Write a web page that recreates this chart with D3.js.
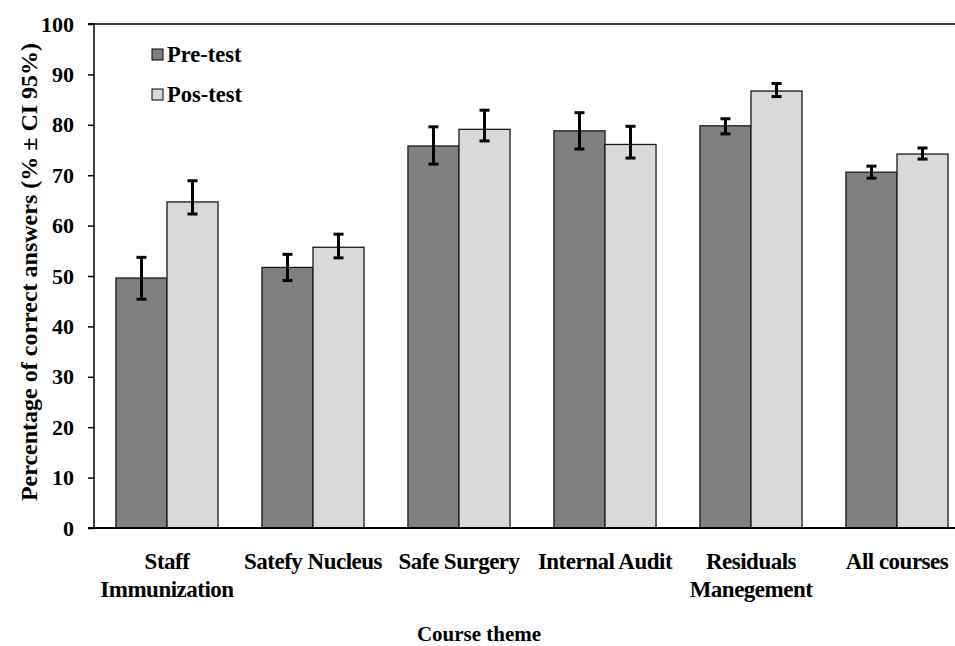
<!DOCTYPE html>
<html>
<head>
<meta charset="utf-8">
<script src="https://cdn.jsdelivr.net/npm/d3@7"></script>
<style>
  body { margin: 0; background: #fff; }
  svg { display: block; font-family: "Liberation Serif", "Times New Roman", serif; font-weight: bold; }
</style>
</head>
<body>
<svg id="drawing_region"></svg>
<script>
// chart values
const categories = [["Staff", "Immunization"], ["Satefy Nucleus"], ["Safe Surgery"], ["Internal Audit"], ["Residuals", "Manegement"], ["All courses"]];
const series = ["Pre-test", "Pos-test"];
const preValues = [49.6, 51.7, 75.8, 78.8, 79.8, 70.6];
const preLow    = [45.4, 49.1, 72.2, 75.2, 78.2, 69.4];
const preHigh   = [53.7, 54.3, 79.6, 82.4, 81.2, 71.8];
const posValues = [64.7, 55.7, 79.1, 76.1, 86.7, 74.2];
const posLow    = [62.3, 53.6, 76.8, 73.4, 85.6, 73.2];
const posHigh   = [68.9, 58.3, 82.9, 79.7, 88.2, 75.4];
const yTicks = [0, 10, 20, 30, 40, 50, 60, 70, 80, 90, 100];
const colors = ["#808080", "#d9d9d9"];

const config = {
    width: 955,
    height: 646,
    left: 94,
    right: 970,
    top: 24,
    bottom: 528
};

const svg = d3.select('#drawing_region')
    .attr('width', config.width)
    .attr('height', config.height);

const keys = categories.map(c => c.join(' '));
const rows = keys.map((k, i) => ({
    key: k,
    lines: categories[i],
    vals: [
        {s: series[0], v: preValues[i], lo: preLow[i], hi: preHigh[i]},
        {s: series[1], v: posValues[i], lo: posLow[i], hi: posHigh[i]}
    ]
}));

const x0 = d3.scaleBand().domain(keys).range([config.left, config.right]);
const x1 = d3.scaleBand().domain(series).range([0, x0.bandwidth()]).paddingOuter(0.43);
const y = d3.scaleLinear().domain([0, 100]).range([config.bottom, config.top]);
const color = d3.scaleOrdinal().domain(series).range(colors);

// top frame line
svg.append('line')
    .attr('x1', 88).attr('x2', config.width)
    .attr('y1', y(100)).attr('y2', y(100))
    .attr('stroke', '#000').attr('stroke-width', 1.5);

// y axis
const yaxis = d3.axisLeft(y).tickValues(yTicks).tickSize(6).tickPadding(14);
const yg = svg.append('g')
    .attr('transform', `translate(${config.left},0)`)
    .call(yaxis);
yg.select('.domain').attr('stroke-width', 1.5).attr('d', `M-6,${y(100)}H0V${y(0)}`);
yg.selectAll('.tick line').attr('stroke-width', 1.5);
yg.selectAll('.tick text')
    .attr('font-family', '"Liberation Serif", serif')
    .attr('font-weight', 'bold')
    .attr('font-size', '22px')
    .attr('fill', '#000');

// bars
const groups = svg.append('g').selectAll('g')
    .data(rows)
    .join('g')
    .attr('transform', d => `translate(${x0(d.key)},0)`);

groups.selectAll('rect')
    .data(d => d.vals)
    .join('rect')
    .attr('x', d => x1(d.s))
    .attr('y', d => y(d.v))
    .attr('width', x1.bandwidth())
    .attr('height', d => y(0) - y(d.v))
    .attr('fill', d => color(d.s))
    .attr('stroke', '#1a1a1a')
    .attr('stroke-width', 1.3);

// error bars
const eb = groups.selectAll('g.err')
    .data(d => d.vals)
    .join('g')
    .attr('class', 'err')
    .attr('stroke', '#000')
    .attr('stroke-width', 3);
eb.append('line')
    .attr('x1', d => x1(d.s) + x1.bandwidth() / 2)
    .attr('x2', d => x1(d.s) + x1.bandwidth() / 2)
    .attr('y1', d => y(d.lo))
    .attr('y2', d => y(d.hi));
eb.append('line')
    .attr('x1', d => x1(d.s) + x1.bandwidth() / 2 - 5)
    .attr('x2', d => x1(d.s) + x1.bandwidth() / 2 + 5)
    .attr('y1', d => y(d.hi)).attr('y2', d => y(d.hi));
eb.append('line')
    .attr('x1', d => x1(d.s) + x1.bandwidth() / 2 - 5)
    .attr('x2', d => x1(d.s) + x1.bandwidth() / 2 + 5)
    .attr('y1', d => y(d.lo)).attr('y2', d => y(d.lo));

// x axis line
svg.append('line')
    .attr('x1', 88).attr('x2', config.width)
    .attr('y1', y(0)).attr('y2', y(0))
    .attr('stroke', '#000').attr('stroke-width', 2);

// category labels
const lab = svg.append('g').selectAll('text')
    .data(rows)
    .join('text')
    .attr('x', d => x0(d.key) + x0.bandwidth() / 2)
    .attr('y', 569)
    .attr('text-anchor', 'middle')
    .attr('font-size', '23px')
    .attr('letter-spacing', '-0.5px');
lab.selectAll('tspan')
    .data(d => d.lines.map((l, i) => ({l, i, x: x0(d.key) + x0.bandwidth() / 2})))
    .join('tspan')
    .attr('x', d => d.x)
    .attr('dy', d => d.i === 0 ? 0 : 28)
    .text(d => d.l);

// axis titles
svg.append('text')
    .attr('x', 479).attr('y', 641)
    .attr('text-anchor', 'middle')
    .attr('font-size', '21px')
    .text('Course theme');

svg.append('text')
    .attr('transform', 'translate(37,272) rotate(-90)')
    .attr('text-anchor', 'middle')
    .attr('font-size', '24px')
    .text('Percentage of correct answers (% \u00b1 CI 95%)');

// legend
const legend = svg.append('g').selectAll('g')
    .data(series)
    .join('g')
    .attr('transform', (d, i) => `translate(152,${49 + i * 40})`);
legend.append('rect')
    .attr('width', 11).attr('height', 11)
    .attr('fill', d => color(d))
    .attr('stroke', '#000').attr('stroke-width', 1);
legend.append('text')
    .attr('x', 15).attr('y', 13)
    .attr('font-size', '22.5px')
    .text(d => d);
</script>
</body>
</html>
